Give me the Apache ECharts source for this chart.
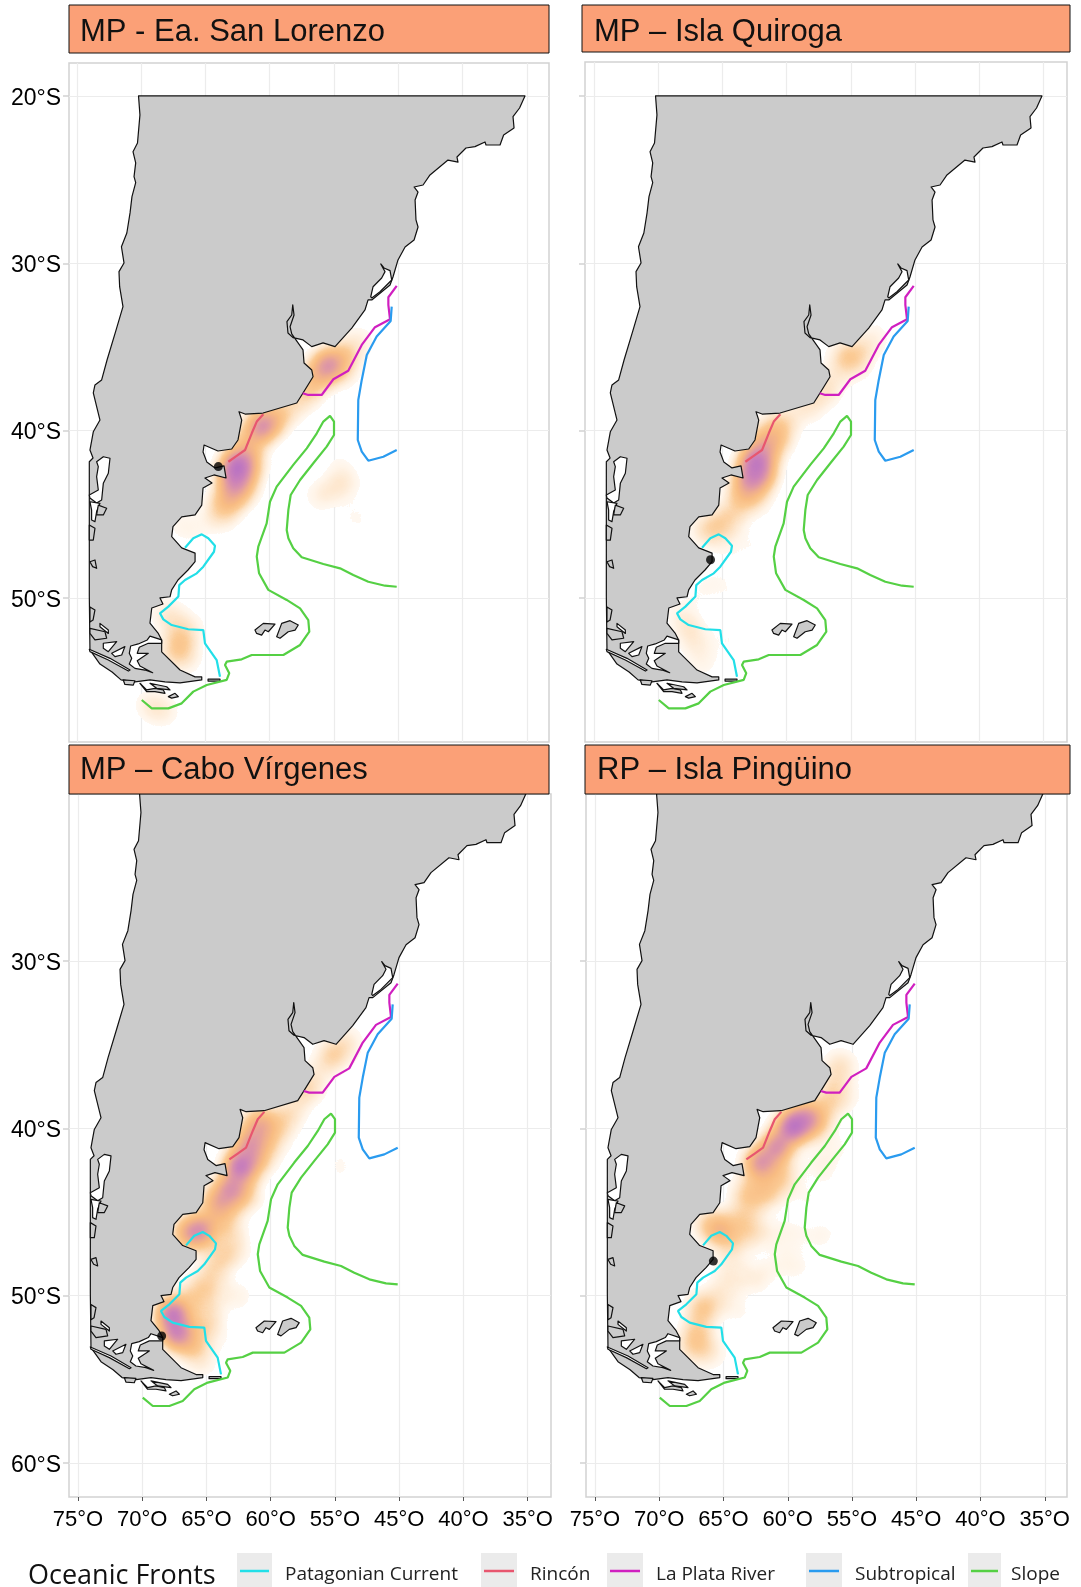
<!DOCTYPE html>
<html>
<head>
<meta charset="utf-8">
<title>Oceanic fronts density maps</title>
<style>html,body{margin:0;padding:0;background:#fff}#c{width:1081px;height:1587px}</style>
<script src="https://cdn.jsdelivr.net/npm/echarts@6/dist/echarts.min.js"></script>
</head>
<body>
<div id="c"></div>
<script>
const panelTitles = ['MP - Ea. San Lorenzo', 'MP – Isla Quiroga', 'MP – Cabo Vírgenes', 'RP – Isla Pingüino'];
const lonTicks = [-75, -70, -65, -60, -55, -50, -45, -40];
const lonTickLabels = ['75°O', '70°O', '65°O', '60°O', '55°O', '45°O', '40°O', '35°O'];
const latTicksTop = [-50, -40, -30, -20];
const latTicksBottom = [-60, -50, -40, -30];
const frontNames = ['Patagonian Current', 'Rincón', 'La Plata River', 'Subtropical', 'Slope'];
const frontColors = ['#22dfe8', '#e8566f', '#d01fc0', '#2a9bef', '#55d044'];

const land = [[-70.21,-20],[-40.14,-20],[-40.56,-20.72],[-41.07,-21.24],[-40.99,-21.91],[-41.80,-22.33],[-42.08,-22.93],[-43.17,-22.93],[-43.25,-22.75],[-44.03,-23.03],[-44.73,-23.11],[-45.43,-23.65],[-45.35,-23.95],[-46.13,-23.83],[-47.53,-24.72],[-48.07,-25.32],[-48.77,-25.44],[-48.46,-25.74],[-48.69,-26.22],[-48.62,-27.41],[-48.46,-27.83],[-48.77,-28.61],[-49.47,-29.03],[-50.02,-29.80],[-50.41,-30.82],[-50.64,-31.30],[-52.06,-32.19],[-52.35,-32.19],[-52.59,-32.79],[-53.62,-33.87],[-54.92,-34.98],[-55.85,-34.76],[-56.73,-34.98],[-57.41,-34.58],[-58.19,-34.44],[-58.58,-34.17],[-58.66,-33.49],[-58.29,-33.09],[-58.21,-32.49],[-58.11,-33.09],[-58.42,-33.79],[-58.29,-34.22],[-57.41,-35.18],[-57.33,-35.96],[-56.73,-36.38],[-56.63,-36.78],[-57.41,-37.75],[-57.90,-38.35],[-60.52,-38.95],[-61.92,-39.01],[-62.39,-38.87],[-62.18,-39.37],[-62.47,-40.56],[-62.96,-41.10],[-64.03,-41.22],[-65.11,-40.86],[-65.19,-41.28],[-64.90,-41.87],[-64.26,-42.23],[-63.56,-42.11],[-63.40,-42.83],[-64.34,-42.65],[-65.04,-42.83],[-64.49,-43.13],[-65.19,-43.43],[-65.29,-44.45],[-65.81,-45.04],[-66.85,-45.15],[-67.53,-45.74],[-67.63,-46.34],[-66.85,-47.01],[-65.81,-47.32],[-65.81,-47.83],[-66.36,-48.33],[-67.14,-48.93],[-67.63,-49.52],[-67.76,-49.93],[-68.54,-50.00],[-68.31,-50.36],[-69.18,-50.60],[-69.32,-51.50],[-68.69,-52.10],[-68.41,-52.51],[-68.41,-53.22],[-66.98,-54.31],[-65.81,-54.72],[-65.29,-54.72],[-65.29,-54.90],[-66.98,-55.08],[-68.15,-55.02],[-69.32,-54.90],[-70.48,-55.02],[-71.57,-54.90],[-72.27,-54.43],[-73.21,-53.95],[-73.99,-53.11],[-74.04,-49.88],[-74.04,-41.86],[-73.75,-41.64],[-73.99,-41.16],[-73.73,-40.07],[-73.21,-39.37],[-73.73,-37.75],[-73.60,-37.27],[-73.08,-36.97],[-72.66,-35.78],[-71.96,-33.99],[-71.42,-32.59],[-71.68,-31.40],[-71.73,-30.50],[-71.34,-29.98],[-71.54,-29.01],[-71.12,-28.19],[-70.87,-26.99],[-70.72,-26.02],[-70.43,-25.18],[-70.56,-24.82],[-70.43,-24.00],[-70.64,-23.33],[-70.29,-22.81],[-70.10,-21.13]];

const waterBodies = [
  [[-51.36,-30.04],[-51.11,-30.28],[-50.64,-30.44],[-50.51,-31.00],[-51.42,-31.70],[-52.06,-32.07],[-52.14,-32.00],[-51.96,-31.40],[-51.29,-30.88],[-51.03,-30.50]],
  [[-73.47,-41.86],[-72.95,-41.56],[-72.43,-41.65],[-72.56,-42.55],[-72.95,-43.15],[-73.08,-44.15],[-73.47,-44.33],[-73.99,-44.03],[-74.04,-43.85],[-73.34,-43.55],[-73.47,-42.75],[-73.34,-42.15]],
  [[-73.99,-44.25],[-73.21,-44.35],[-73.47,-44.84],[-73.60,-45.44],[-73.86,-45.34],[-73.86,-44.75]],
  [[-68.41,-52.51],[-69.32,-52.28],[-69.53,-52.51],[-70.23,-52.75],[-70.82,-52.87],[-70.93,-53.31],[-70.74,-53.61],[-70.93,-53.95],[-70.49,-54.21],[-69.71,-54.31],[-69.11,-54.47],[-70.10,-54.07],[-70.31,-53.75],[-69.45,-53.31],[-70.31,-53.31],[-70.15,-52.95],[-69.45,-52.71],[-68.41,-52.71]],
  [[-72.95,-52.71],[-71.91,-52.61],[-72.56,-53.21],[-72.95,-53.01]],
  [[-72.30,-53.31],[-71.27,-52.91],[-71.52,-53.41],[-72.04,-53.51]],
  [[-74.04,-53.07],[-72.43,-53.61],[-70.87,-54.31],[-71.00,-54.37],[-72.56,-53.71],[-73.99,-53.21]],
  [[-73.21,-51.52],[-72.56,-51.92],[-72.56,-52.12],[-73.21,-51.72]]
];

const islands = [
  [[-61.15,-51.92],[-60.50,-51.52],[-59.59,-51.56],[-60.11,-52.02],[-60.37,-51.92],[-60.63,-52.22],[-61.02,-52.12]],
  [[-59.46,-52.32],[-59.07,-51.52],[-58.42,-51.36],[-57.78,-51.62],[-58.03,-51.92],[-58.56,-52.02],[-59.20,-52.41]],
  [[-64.80,-54.85],[-63.87,-54.85],[-63.87,-54.97],[-64.80,-54.97]],
  [[-73.99,-51.82],[-72.82,-52.02],[-72.69,-52.41],[-73.60,-52.51],[-73.99,-52.12]],
  [[-73.99,-50.54],[-73.60,-50.72],[-73.75,-51.32],[-73.99,-51.44]],
  [[-73.34,-44.45],[-72.69,-44.64],[-72.95,-45.04],[-73.47,-45.04]],
  [[-74.04,-45.64],[-73.60,-45.84],[-73.73,-46.54],[-74.04,-46.54]],
  [[-73.99,-47.84],[-73.60,-47.73],[-73.47,-48.23],[-73.78,-48.13]],
  [[-71.40,-54.90],[-70.49,-54.95],[-70.62,-55.21],[-71.27,-55.17]],
  [[-70.10,-55.10],[-69.58,-55.50],[-68.93,-55.40],[-68.28,-55.50],[-68.15,-55.70],[-68.93,-55.60],[-69.58,-55.60]],
  [[-69.32,-55.10],[-68.02,-55.31],[-67.76,-55.50],[-68.80,-55.40]],
  [[-67.89,-55.90],[-67.37,-55.70],[-67.11,-55.90],[-67.63,-55.99]]
];

const patagonianCurrent = [[-66.59,-47.00],[-65.95,-46.43],[-65.29,-46.20],[-64.78,-46.43],[-64.26,-46.88],[-64.34,-47.24],[-65.17,-48.13],[-65.68,-48.53],[-66.59,-48.93],[-67.04,-49.23],[-67.11,-49.92],[-67.89,-50.52],[-68.54,-50.92],[-68.28,-51.28],[-67.63,-51.62],[-66.34,-51.87],[-65.17,-51.92],[-65.04,-52.71],[-64.13,-53.71],[-63.87,-54.71]];
const rincon = [[-60.50,-39.02],[-61.01,-39.46],[-61.40,-40.16],[-61.92,-41.16],[-62.57,-41.51],[-63.22,-41.86]];
const laPlataRiver = [[-50.12,-31.35],[-50.77,-32.03],[-50.77,-32.49],[-50.64,-33.35],[-51.81,-33.82],[-52.84,-34.88],[-53.89,-36.42],[-55.05,-36.93],[-55.96,-37.87],[-57.00,-37.87],[-57.43,-37.77]];
const subtropical = [[-50.51,-32.59],[-50.59,-33.45],[-51.68,-34.38],[-52.45,-35.48],[-52.84,-36.97],[-53.11,-38.17],[-53.15,-40.56],[-52.84,-41.26],[-52.33,-41.80],[-51.16,-41.56],[-50.12,-41.16]];
const slope = [[-50.12,-49.33],[-51.03,-49.27],[-52.33,-49.03],[-53.50,-48.63],[-54.53,-48.23],[-55.83,-47.97],[-57.51,-47.57],[-58.17,-47.03],[-58.55,-46.43],[-58.68,-45.94],[-58.55,-44.74],[-58.37,-43.85],[-57.64,-42.95],[-56.61,-41.95],[-55.57,-40.96],[-55.00,-40.26],[-55.00,-39.46],[-55.31,-39.12],[-55.83,-39.46],[-56.34,-40.16],[-57.12,-41.06],[-58.17,-42.05],[-59.46,-43.35],[-59.98,-44.25],[-60.24,-45.54],[-60.89,-46.94],[-61.01,-47.53],[-60.83,-48.53],[-60.11,-49.52],[-58.68,-50.12],[-57.64,-50.62],[-57.00,-51.32],[-56.92,-52.02],[-57.64,-52.81],[-58.94,-53.41],[-61.40,-53.41],[-62.18,-53.67],[-63.35,-53.81],[-63.48,-54.01],[-63.15,-54.50],[-63.35,-54.90],[-64.90,-55.20],[-65.95,-55.60],[-66.85,-56.30],[-67.89,-56.60],[-69.18,-56.60],[-69.96,-56.10]];

const colonyPoints = [[-64.0,-42.15],[-65.93,-47.72],[-68.49,-52.42],[-65.79,-47.94]];

const densitySanLorenzo = [[-55.47,-36.08,.65],[-56.25,-36.68,.25],[-54.14,-35.48,.3],[-56.87,-37.45,.25],[-52.97,-34.58,.12],[-57.65,-38.17,.15],[-54.14,-36.68,.12],[-60.60,-39.78,.68],[-61.93,-40.56,.25],[-58.81,-38.89,.2],[-59.82,-39.25,.25],[-62.55,-42.12,.85],[-62.78,-42.95,.5],[-62.94,-43.85,.35],[-63.48,-44.45,.2],[-61.54,-41.46,.3],[-64.26,-44.74,.12],[-61.93,-43.55,.2],[-61.38,-42.47,.15],[-63.48,-45.34,.1],[-66.98,-45.64,.1],[-65.43,-45.94,.08],[-64.65,-47.73,.04],[-66.2,-48.93,.04],[-66.98,-52.52,.3],[-67.92,-51.02,.2],[-67.37,-53.41,.2],[-66.2,-51.62,.12],[-66.2,-53.71,.1],[-69.32,-56.40,.15],[-68.15,-56.82,.13],[-54.30,-43.13,.2],[-55.93,-43.85,.16],[-54.69,-41.76,.06],[-53.13,-45.34,.07],[-53.75,-44.75,.03]];
const densityQuiroga = [[-55.47,-35.66,.3],[-54.14,-35.18,.2],[-56.71,-37.27,.2],[-52.97,-34.29,.1],[-57.65,-38.17,.15],[-54.53,-36.38,.1],[-60.60,-39.66,.3],[-58.81,-38.77,.15],[-61.93,-40.56,.3],[-62.47,-41.87,.75],[-61.93,-42.65,.45],[-62.94,-42.95,.5],[-63.48,-43.85,.3],[-61.54,-41.16,.3],[-60.60,-40.56,.2],[-64.26,-45.04,.2],[-62.32,-44.15,.18],[-66.2,-45.94,.25],[-65.04,-45.64,.18],[-64.65,-47.14,.08],[-63.09,-46.54,.06],[-65.04,-48.93,.07],[-66.59,-49.53,.08],[-62.32,-50.12,.03],[-63.87,-52.52,.04],[-67.37,-52.22,.2],[-68.15,-51.02,.14],[-66.59,-53.71,.13],[-65.04,-52.52,.06],[-55.08,-42.95,.04],[-49.94,-36.68,.02],[-62.0,-47.0,.04],[-64.0,-50.0,.05],[-61.0,-52.0,.02]];
const densityVirgenes = [[-62.39,-42.29,.85],[-67.61,-51.08,.85],[-67.30,-52.28,.75],[-65.51,-46.12,.68],[-66.52,-46.30,.4],[-64.18,-44.50,.5],[-63.17,-43.67,.6],[-60.84,-39.72,.55],[-61.62,-40.92,.6],[-58.73,-39.30,.25],[-63.40,-45.70,.3],[-66.05,-49.88,.25],[-64.49,-48.27,.22],[-64.96,-51.08,.2],[-66.05,-53.05,.3],[-65.27,-54.07,.12],[-62.63,-47.07,.12],[-55.31,-35.78,.3],[-54.14,-34.88,.2],[-56.87,-37.27,.22],[-57.65,-38.05,.18],[-54.61,-41.87,.07],[-54.6,-43.0,.05],[-55.93,-43.79,.05],[-59.28,-48.27,.03],[-68.62,-57.0,.03],[-60.84,-55.02,.02],[-60.84,-52.04,.03],[-62.16,-50.06,.05],[-62.0,-44.0,.3],[-61.0,-42.0,.3],[-60.0,-41.0,.18],[-59.5,-40.3,.14],[-63.5,-47.5,.22],[-64.8,-49.5,.22],[-65.0,-52.0,.2],[-63.0,-50.0,.1],[-63.0,-53.0,.06],[-62.0,-54.0,.04],[-58.0,-51.0,.02]];
const densityPinguino = [[-59.59,-39.90,.9],[-58.50,-39.30,.55],[-62.16,-42.11,.7],[-60.84,-41.10,.7],[-57.72,-39.72,.28],[-65.27,-46.06,.45],[-66.28,-45.70,.2],[-63.17,-43.91,.32],[-61.62,-43.91,.32],[-60.37,-42.89,.3],[-63.48,-45.46,.28],[-64.26,-47.08,.22],[-62.39,-46.30,.2],[-66.60,-50.72,.36],[-67.06,-52.22,.3],[-67.5,-53.2,.2],[-66.05,-53.41,.18],[-64.73,-48.69,.15],[-62.16,-48.87,.1],[-63.72,-51.02,.08],[-57.49,-41.88,.12],[-58.50,-44.27,.08],[-60.06,-46.30,.12],[-56.94,-46.30,.06],[-56.48,-48.27,.05],[-59.05,-48.27,.08],[-60.06,-53.83,.03],[-62.94,-55.80,.03],[-55.93,-41.10,.08],[-55.93,-36.32,.25],[-56.71,-37.69,.2],[-56.48,-38.53,.2],[-54.92,-37.93,.08],[-51.81,-37.93,.03],[-51.27,-41.88,.02],[-63.0,-49.0,.1],[-60.5,-48.0,.1],[-58.0,-46.5,.07],[-60.0,-50.5,.06],[-62.0,-53.0,.06],[-57.0,-43.0,.06],[-65.0,-50.0,.15]];

const fronts = [patagonianCurrent, rincon, laPlataRiver, subtropical, slope];
const densities = [densitySanLorenzo, densityQuiroga, densityVirgenes, densityPinguino];

const panels = [
  {left:69, top:63, width:480, height:679, lon:[-75.62,-38.27], lat:[-58.61,-18.03], latTicks:latTicksTop, yLabels:true, xLabels:false},
  {left:585,top:62, width:482, height:680, lon:[-75.70,-38.19], lat:[-58.61,-17.97], latTicks:latTicksTop, yLabels:false,xLabels:false},
  {left:69, top:794,width:482, height:703, lon:[-75.70,-38.19], lat:[-62.04,-20.02], latTicks:latTicksBottom, yLabels:true, xLabels:true},
  {left:586,top:794,width:481, height:703, lon:[-75.70,-38.27], lat:[-62.04,-20.02], latTicks:latTicksBottom, yLabels:false,xLabels:true}
];
const strips = [
  {x:69, y:5,  w:480,h:48, ty:32},
  {x:582,y:5,  w:488,h:47, ty:32},
  {x:69, y:745,w:480,h:49, ty:770},
  {x:585,y:745,w:485,h:49, ty:770}
];
const stripTextX = [80,594,80,597];
const legendKeys = [{x:237,w:35,tx:285},{x:481,w:36,tx:530},{x:607,w:36,tx:656},{x:806,w:36,tx:855},{x:968,w:33,tx:1011}];

const heatColors = ['rgba(255,255,255,0)','rgba(255,244,232,.85)','#fde3c6','#fbca94','#f8bc82','#eeac8e','#dd96a6','#cc82b8','#bb74c2','#ab68ca','#a060ce','#9a5cd0'];
const grids=[],xAxes=[],yAxes=[],geos=[],series=[],visualMaps=[],graphics=[];
const labelFont={color:'#000',fontFamily:'Liberation Sans',fontSize:22};

panels.forEach((p,i)=>{
  echarts.registerMap('panel'+i,{type:'FeatureCollection',features:[{type:'Feature',properties:{name:'p'+i},geometry:{type:'Polygon',coordinates:[[[p.lon[0],p.lat[0]],[p.lon[1],p.lat[0]],[p.lon[1],p.lat[1]],[p.lon[0],p.lat[1]],[p.lon[0],p.lat[0]]]]}}]});
  grids.push({left:p.left,top:p.top,width:p.width,height:p.height,show:true,borderColor:'#d2d2d2',borderWidth:1.5,backgroundColor:'transparent',containLabel:false});
  geos.push({map:'panel'+i,left:p.left,top:p.top,width:p.width,height:p.height,aspectScale:1,silent:true,roam:false,z:0,
    itemStyle:{areaColor:'transparent',borderWidth:0,borderColor:'transparent'},label:{show:false},emphasis:{disabled:true}});
  xAxes.push({type:'value',gridIndex:i,min:p.lon[0],max:p.lon[1],scale:true,
    axisLine:{show:false},
    axisTick:{show:p.xLabels,length:4,lineStyle:{color:'#555'},customValues:lonTicks},
    splitLine:{show:true,lineStyle:{color:'#ececec',width:1.2}},
    axisLabel:Object.assign({show:p.xLabels,customValues:lonTicks,hideOverlap:false,margin:12,
      rich:{up:Object.assign({padding:[0,0,6,0]},labelFont)},
      formatter:v=>v>-46?'{up|'+lonTickLabels[lonTicks.indexOf(v)]+'}':lonTickLabels[lonTicks.indexOf(v)]},labelFont)});
  yAxes.push({type:'value',gridIndex:i,min:p.lat[0],max:p.lat[1],scale:true,
    axisLine:{show:false},
    axisTick:{show:true,length:6,lineStyle:{color:'#d2d2d2',width:1.5},customValues:p.latTicks},
    splitLine:{show:true,lineStyle:{color:'#ececec',width:1.2}},
    axisLabel:{show:p.yLabels,customValues:p.latTicks,margin:8,color:'#000',fontFamily:'Liberation Sans',fontSize:23,
      rich:{dn:{padding:[5,0,0,0],color:'#000',fontFamily:'Liberation Sans',fontSize:23}},
      formatter:v=>'{dn|'+Math.abs(v)+'°S}'}});
  visualMaps.push({type:'continuous',show:false,min:0,max:0.9,seriesIndex:series.length,inRange:{color:heatColors}});
  series.push({type:'heatmap',name:'Density '+panelTitles[i],coordinateSystem:'geo',geoIndex:i,data:densities[i],pointSize:14,blurSize:20,minOpacity:1,maxOpacity:1,z:1,silent:true});
  const polys=[{pts:land,fill:'#cbcbcb'}].concat(waterBodies.map(w=>({pts:w,fill:'#ffffff'})),islands.map(w=>({pts:w,fill:'#cbcbcb'})));
  series.push({type:'custom',name:'Land',coordinateSystem:'cartesian2d',xAxisIndex:i,yAxisIndex:i,z:3,silent:true,clip:true,
    data:polys.map((_,k)=>[k]),encode:{x:[],y:[]},
    renderItem:(params,api)=>{const q=polys[params.dataIndex];
      return {type:'polygon',shape:{points:q.pts.map(c=>api.coord(c))},style:{fill:q.fill,stroke:'#111',lineWidth:1.2,lineJoin:'round'}};}});
  fronts.forEach((f,k)=>{
    series.push({type:'line',name:frontNames[k],xAxisIndex:i,yAxisIndex:i,data:f,showSymbol:false,z:4,silent:true,
      lineStyle:{color:frontColors[k],width:2.2},itemStyle:{color:frontColors[k]},animation:false});
  });
  series.push({type:'scatter',name:'Colony',xAxisIndex:i,yAxisIndex:i,data:[colonyPoints[i]],symbolSize:9,z:5,silent:true,itemStyle:{color:'#000'}});
  const s=strips[i];
  graphics.push({type:'rect',z:100,shape:{x:s.x,y:s.y,width:s.w,height:s.h},style:{fill:'#fba077',stroke:'#111',lineWidth:1}});
  graphics.push({type:'text',z:101,x:stripTextX[i],y:s.ty,style:{text:panelTitles[i],fill:'#111',font:'31px "Liberation Sans"',verticalAlign:'middle'}});
});

graphics.push({type:'text',z:101,x:28,y:1576,style:{text:'Oceanic Fronts',fill:'#111',font:'27px "Open Sans"',verticalAlign:'middle'}});
legendKeys.forEach((k,n)=>{
  graphics.push({type:'rect',z:100,shape:{x:k.x,y:1553,width:k.w,height:34},style:{fill:'#ebebeb'}});
  graphics.push({type:'line',z:101,shape:{x1:k.x+3,y1:1571,x2:k.x+k.w-3,y2:1571},style:{stroke:frontColors[n],lineWidth:2.5}});
  graphics.push({type:'text',z:101,x:k.tx,y:1575,style:{text:frontNames[n],fill:'#222',font:'19px "Open Sans"',verticalAlign:'middle'}});
});

const chart=echarts.init(document.getElementById('c'),null,{renderer:'canvas',width:1081,height:1587});
chart.setOption({animation:false,backgroundColor:'#fff',grid:grids,xAxis:xAxes,yAxis:yAxes,geo:geos,visualMap:visualMaps,series:series,graphic:{elements:graphics}});
</script>
</body>
</html>
